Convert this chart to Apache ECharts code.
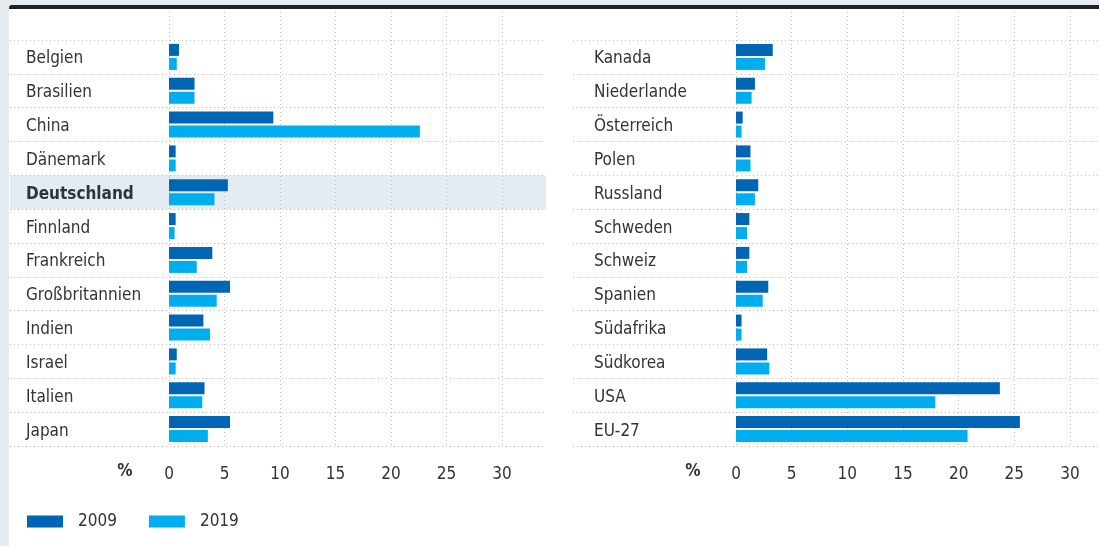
<!DOCTYPE html>
<html>
<head>
<meta charset="utf-8">
<script src="https://cdn.jsdelivr.net/npm/echarts@6/dist/echarts.min.js"></script>
<style>
  html, body { margin: 0; padding: 0; background: #e4ecf2; }
  #frame {
    position: absolute; left: 9px; top: 5px; width: 1090px; height: 541px;
    background: #ffffff; border-top: 4px solid #222222; border-top-left-radius: 3px;
    box-sizing: border-box;
  }
  #chart { position: absolute; left: 0; top: 0; width: 1099px; height: 546px; }
</style>
</head>
<body>
<div id="frame"></div>
<div id="chart"></div>
<script>
const leftCountries = ['Belgien', 'Brasilien', 'China', 'Dänemark', 'Deutschland', 'Finnland',
  'Frankreich', 'Großbritannien', 'Indien', 'Israel', 'Italien', 'Japan']
const left2009 = [0.9, 2.3, 9.4, 0.6, 5.3, 0.6, 3.9, 5.5, 3.1, 0.7, 3.2, 5.5]
const left2019 = [0.7, 2.3, 22.6, 0.6, 4.1, 0.5, 2.5, 4.3, 3.7, 0.6, 3.0, 3.5]

const rightCountries = ['Kanada', 'Niederlande', 'Österreich', 'Polen', 'Russland', 'Schweden',
  'Schweiz', 'Spanien', 'Südafrika', 'Südkorea', 'USA', 'EU-27']
const right2009 = [3.3, 1.7, 0.6, 1.3, 2.0, 1.2, 1.2, 2.9, 0.5, 2.8, 23.7, 25.5]
const right2019 = [2.6, 1.4, 0.5, 1.3, 1.7, 1.0, 1.0, 2.4, 0.5, 3.0, 17.9, 20.8]

const xTicks = [0, 5, 10, 15, 20, 25, 30]
const years = ['2009', '2019']
const highlight = 'Deutschland'

const FONT = '"DejaVu Sans Condensed", "Liberation Sans Narrow", Roboto, sans-serif'
const TEXT = '#333333'
const GRIDLINE = { type: [1, 3], color: '#bdbdbd', width: 1 }
const colors = ['#0066b3', '#00aeef']

let myChart = echarts.init(document.getElementById('chart'))

// one panel = row separators grid + vertical grid lines grid + bars grid
function panel(idx, rowLeft, rowRight, plotLeft, plotRight, labelMargin, countries, v2009, v2019) {
  const g = idx * 3
  const grids = [
    { left: rowLeft, right: rowRight, top: 40, bottom: 100 },
    { left: plotLeft, right: plotRight, top: 12, bottom: 100 },
    { left: plotLeft, right: plotRight, top: 40, bottom: 100 }
  ]
  const xAxes = [
    { gridIndex: g, type: 'value', show: false, min: 0, max: 1 },
    {
      gridIndex: g + 1, type: 'value', min: xTicks[0], max: xTicks[xTicks.length - 1],
      interval: xTicks[1] - xTicks[0],
      axisLine: { show: false }, axisTick: { show: false },
      splitLine: { show: true, lineStyle: GRIDLINE },
      axisLabel: { margin: 20, fontFamily: FONT, fontSize: 17, color: TEXT }
    },
    { gridIndex: g + 2, type: 'value', show: false, min: xTicks[0], max: xTicks[xTicks.length - 1] }
  ]
  const areaColors = countries.map(c => c === highlight ? '#e3ecf3' : 'rgba(255,255,255,0)')
  const yAxes = [
    {
      gridIndex: g, type: 'category', data: countries, inverse: true,
      axisLine: { show: false }, axisTick: { show: false }, axisLabel: { show: false },
      splitLine: { show: true, interval: 0, lineStyle: GRIDLINE },
      splitArea: { show: true, interval: 0, areaStyle: { color: areaColors } }
    },
    { gridIndex: g + 1, type: 'value', show: false },
    {
      gridIndex: g + 2, type: 'category', data: countries, inverse: true,
      axisLine: { show: false }, axisTick: { show: false }, splitLine: { show: false },
      axisLabel: {
        interval: 0, margin: labelMargin, align: 'left', padding: [4, 0, 0, 0],
        fontFamily: FONT, fontSize: 17, color: TEXT,
        formatter: function (name) {
          return name === highlight ? '{b|' + name + '}' : name
        },
        rich: { b: { fontFamily: FONT, fontSize: 17, fontWeight: 'bold', color: TEXT } }
      }
    }
  ]
  const series = [v2009, v2019].map((vals, i) => ({
    name: years[i], type: 'bar', xAxisIndex: g + 2, yAxisIndex: g + 2,
    barWidth: 12, barGap: '17%', itemStyle: { color: colors[i] },
    data: vals, z: 3
  }))
  return { grids, xAxes, yAxes, series }
}

const pL = panel(0, 10, 553, 169, 597, 143, leftCountries, left2009, left2019)
const pR = panel(1, 573, 0, 736, 29, 142, rightCountries, right2009, right2019)

let option = {
  animation: false,
  textStyle: { fontFamily: FONT },
  grid: pL.grids.concat(pR.grids),
  xAxis: pL.xAxes.concat(pR.xAxes),
  yAxis: pL.yAxes.concat(pR.yAxes),
  series: pL.series.concat(pR.series),
  legend: {
    data: years, left: 27, top: 513, padding: 0, icon: 'rect',
    itemWidth: 36, itemHeight: 12, itemGap: 32,
    textStyle: { fontFamily: FONT, fontSize: 17, color: TEXT, padding: [0, 0, 0, 10] }
  },
  graphic: [
    { type: 'text', x: 125, y: 472, style: { text: '%', fill: TEXT, font: 'bold 17px ' + FONT, textAlign: 'center', textVerticalAlign: 'middle' } },
    { type: 'text', x: 693, y: 472, style: { text: '%', fill: TEXT, font: 'bold 17px ' + FONT, textAlign: 'center', textVerticalAlign: 'middle' } }
  ]
}
myChart.setOption(option)
</script>
</body>
</html>
